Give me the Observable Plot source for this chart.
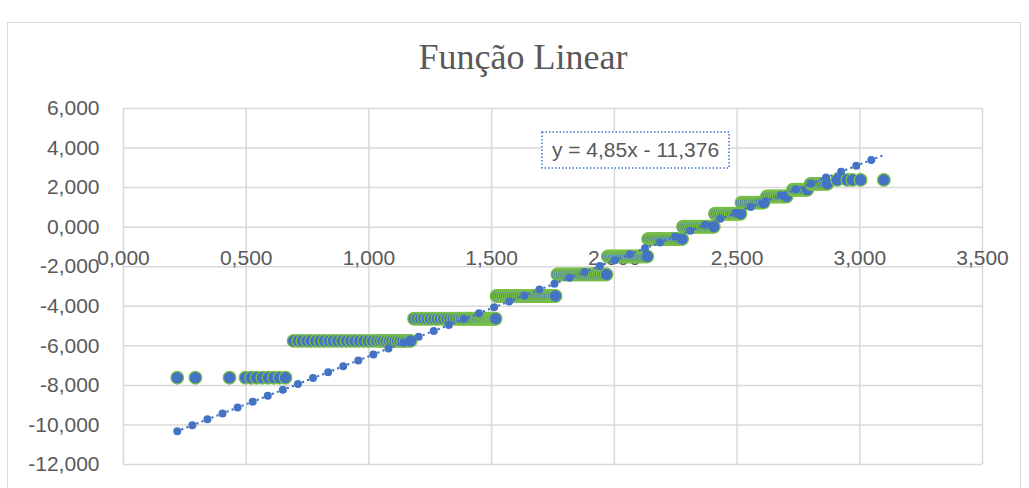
<!DOCTYPE html>
<html>
<head>
<meta charset="utf-8">
<script src="https://cdn.jsdelivr.net/npm/d3@7"></script>
<script src="https://cdn.jsdelivr.net/npm/@observablehq/plot@0.6"></script>
<style>
  html, body { margin: 0; padding: 0; background: #fff; overflow: hidden; }
  #wrap { position: relative; width: 1029px; height: 488px; }
  #frame { position: absolute; left: 7px; top: 22px; width: 1014px; height: 480px;
           border: 1.5px solid #D9D9D9; box-sizing: border-box; }
  #title { position: absolute; left: 0; width: 1046px; top: 39px; text-align: center;
           font-family: "Liberation Serif", "Times New Roman", serif; font-size: 36px;
           line-height: 36px; color: #595959; }
  #eq { position: absolute; left: 541px; top: 131px; width: 189px; height: 38px;
        box-sizing: border-box; text-align: center;
        font-family: "Liberation Sans", Arial, sans-serif; font-size: 21px; line-height: 37px;
        color: #595959; background: #fff; }
  #eq svg { position: absolute; left: 0; top: 0; }
  #chart { position: absolute; left: 0; top: 0; }
</style>
</head>
<body>
<div id="wrap">
  <div id="frame"></div>
  <div id="chart"></div>
  <div id="title">Função Linear</div>
  <div id="eq"><svg width="189" height="38"><rect x="1" y="1" width="187" height="36" fill="none" stroke="#4472C4" stroke-width="1.5" stroke-dasharray="1.5 2"/></svg>y = 4,85x - 11,376</div>
</div>
<script>
// ---- data ----
const xTicks = [0, 0.5, 1, 1.5, 2, 2.5, 3, 3.5];
const xTickLabels = ["0,000", "0,500", "1,000", "1,500", "2,000", "2,500", "3,000", "3,500"];
const yTicks = [-12, -10, -8, -6, -4, -2, 0, 2, 4, 6];
const yTickLabels = ["-12,000", "-10,000", "-8,000", "-6,000", "-4,000", "-2,000", "0,000", "2,000", "4,000", "6,000"];

// y level of each step of points
const levels = [-7.61, -5.75, -4.63, -3.48, -2.39, -1.48, -0.60, 0.02, 0.68, 1.24, 1.55, 1.89, 2.19, 2.39];

const step1X = [0.219, 0.293, 0.432, 0.497, 0.520, 0.543, 0.566, 0.590, 0.613, 0.636, 0.660];
const step2X = [0.693, 0.712, 0.729, 0.748, 0.765, 0.784, 0.801, 0.819, 0.838, 0.855, 0.873, 0.891,
  0.909, 0.927, 0.944, 0.962, 0.980, 0.998, 1.015, 1.032, 1.046, 1.058, 1.071, 1.083, 1.094, 1.106,
  1.117, 1.128, 1.139, 1.150, 1.160, 1.170];
const step3X = [1.184, 1.197, 1.211, 1.224, 1.238, 1.251, 1.265, 1.278, 1.292, 1.305, 1.318, 1.331,
  1.343, 1.355, 1.366, 1.376, 1.386, 1.395, 1.404, 1.412, 1.420, 1.428, 1.436, 1.443, 1.450, 1.457,
  1.464, 1.471, 1.477, 1.483, 1.489, 1.495, 1.500, 1.505, 1.510, 1.516];
const step4X = [1.520, 1.528, 1.537, 1.545, 1.553, 1.561, 1.569, 1.577, 1.585, 1.593, 1.601, 1.609,
  1.617, 1.625, 1.633, 1.641, 1.649, 1.657, 1.665, 1.673, 1.681, 1.689, 1.697, 1.705, 1.713, 1.721,
  1.729, 1.737, 1.745, 1.752, 1.760];
const step5X = [1.768, 1.776, 1.784, 1.792, 1.800, 1.808, 1.816, 1.824, 1.832, 1.840, 1.848, 1.856,
  1.864, 1.872, 1.880, 1.888, 1.896, 1.904, 1.912, 1.920, 1.928, 1.936, 1.944, 1.952, 1.960, 1.968];
const step6X = [1.974, 1.982, 1.990, 1.998, 2.006, 2.014, 2.022, 2.030, 2.038, 2.046, 2.054, 2.062,
  2.070, 2.078, 2.086, 2.094, 2.102, 2.110, 2.118, 2.126, 2.134];
const step7X = [2.138, 2.146, 2.154, 2.162, 2.170, 2.178, 2.186, 2.194, 2.202, 2.210, 2.218, 2.226,
  2.234, 2.242, 2.250, 2.258, 2.266, 2.276];
const step8X = [2.280, 2.288, 2.296, 2.304, 2.312, 2.320, 2.328, 2.336, 2.344, 2.352, 2.360, 2.368,
  2.376, 2.384, 2.392, 2.400, 2.405];
const step9X = [2.410, 2.418, 2.426, 2.434, 2.442, 2.450, 2.458, 2.466, 2.474, 2.482, 2.490, 2.498,
  2.506, 2.514];
const step10X = [2.518, 2.526, 2.534, 2.542, 2.550, 2.558, 2.566, 2.574, 2.582, 2.590, 2.598, 2.608];
const step11X = [2.622, 2.630, 2.638, 2.646, 2.654, 2.662, 2.670, 2.678, 2.686, 2.694, 2.702];
const step12X = [2.728, 2.736, 2.744, 2.752, 2.760, 2.768, 2.776, 2.786];
const step13X = [2.800, 2.808, 2.816, 2.824, 2.832, 2.840, 2.848, 2.858, 2.868];
const step14X = [2.908, 2.949, 2.970, 3.003, 3.098];

// trendline coefficients shown on the chart
const slope = 4.85;
const intercept = -11.376;

// ---- build table ----
const stepsX = [step1X, step2X, step3X, step4X, step5X, step6X, step7X, step8X, step9X,
                step10X, step11X, step12X, step13X, step14X];
const points = [];
stepsX.forEach((xs, i) => xs.forEach(x => points.push({x, y: levels[i]})));
const xExt = d3.extent(points, d => d.x);
const trend = xExt.map(x => ({x, y: slope * x + intercept}));

const xLab = new Map(xTicks.map((t, i) => [t, xTickLabels[i]]));
const yLab = new Map(yTicks.map((t, i) => [t, yTickLabels[i]]));

const grid = "#D9D9D9";
const blue = "#4472C4";
const green = "#7AC143";
const font = "'Liberation Sans', Arial, sans-serif";

const chart = Plot.plot({
  width: 1029,
  height: 488,
  marginLeft: 123,
  marginRight: 47,
  marginTop: 108,
  marginBottom: 24,
  style: {fontFamily: font, background: "transparent", overflow: "visible"},
  x: {domain: [0, 3.5], axis: null},
  y: {domain: [-12, 6]},
  marks: [
    Plot.gridY(yTicks, {stroke: grid, strokeOpacity: 1, strokeWidth: 1.5}),
    Plot.gridX(xTicks, {stroke: grid, strokeOpacity: 1, strokeWidth: 1.5}),
    Plot.axisY(yTicks, {tickSize: 0, tickPadding: 24, label: null, fontSize: 21,
      fill: "#595959", tickFormat: d => yLab.get(d)}),
    Plot.text(xTicks, {x: d => d, y: () => 0, dy: 31, text: d => xLab.get(d),
      fontSize: 21, fill: "#595959", fontFamily: font}),
    Plot.dot(points, {x: "x", y: "y", r: 6.3, fill: blue, fillOpacity: 1,
      stroke: green, strokeWidth: 1.3}),
    Plot.line(trend, {x: "x", y: "y", stroke: blue, strokeWidth: 2.4,
      strokeDasharray: "0 5.4", strokeLinecap: "round"}),
    Plot.line(trend, {x: "x", y: "y", stroke: blue, strokeWidth: 8,
      strokeDasharray: "0 16.2", strokeLinecap: "round"})
  ]
});
document.getElementById("chart").appendChild(chart);
</script>
</body>
</html>
